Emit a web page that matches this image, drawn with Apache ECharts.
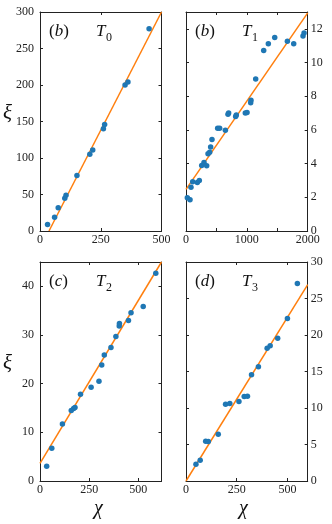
<!DOCTYPE html>
<html><head><meta charset="utf-8">
<script src="https://cdn.jsdelivr.net/npm/echarts@6/dist/echarts.min.js"></script>
<style>html,body{margin:0;padding:0;background:#fff}#c{width:332px;height:524px}</style>
</head><body><div id="c"></div>
<script>
// Panel (b) T0
const t0X = [31, 60, 75, 102, 107, 152, 205, 217, 261, 266, 350, 362, 449];
const t0Y = [9, 19, 32, 45, 49, 76, 105, 111, 140, 146, 200, 204, 277];
const t0FitX = [37, 500];
const t0FitY = [0, 300];
// Panel (b) T1
const t1X = [22, 66, 82, 110, 186, 219, 258, 296, 340, 362, 389, 405, 427, 520, 553, 647, 690, 701, 816, 827, 975, 1003, 1063, 1068, 1145, 1277, 1353, 1458, 1666, 1770, 1923, 1940];
const t1Y = [1.97, 1.86, 2.6, 2.92, 2.88, 3.0, 3.89, 4.07, 3.87, 4.58, 4.68, 4.99, 5.43, 6.1, 6.1, 5.98, 6.93, 7.0, 6.79, 6.89, 7.0, 7.03, 7.62, 7.76, 9.02, 10.72, 11.11, 11.49, 11.27, 11.11, 11.58, 11.76];
const t1FitX = [0, 2000];
const t1FitY = [2.47, 12.95];
// Panel (c) T2
const t2X = [34, 60, 114, 159, 171, 178, 206, 260, 300, 314, 327, 361, 386, 403, 404, 450, 463, 525, 589];
const t2Y = [3.02, 6.72, 11.73, 14.48, 14.89, 15.09, 17.84, 19.28, 20.51, 23.81, 25.87, 27.44, 29.71, 31.84, 32.38, 33.0, 34.58, 35.88, 42.68];
const t2FitX = [0, 618];
const t2FitY = [3.6, 45];
// Panel (d) T3
const t3X = [49, 70, 97, 110, 159, 195, 216, 261, 287, 303, 323, 357, 400, 415, 452, 500, 549];
const t3Y = [2.29, 2.83, 5.44, 5.4, 6.4, 10.52, 10.61, 10.88, 11.57, 11.61, 14.54, 15.64, 18.2, 18.52, 19.57, 22.27, 27.07];
const t3FitX = [0, 600];
const t3FitY = [0, 26.9];

const xTicks = [[0, 250, 500], [0, 1000, 2000], [0, 250, 500], [0, 250, 500]];
const yTicks = [[0, 50, 100, 150, 200, 250, 300], [0, 2, 4, 6, 8, 10, 12], [0, 10, 20, 30, 40], [0, 5, 10, 15, 20, 25, 30]];
const panelLetters = ['b', 'b', 'c', 'd'];
const panelSubs = ['0', '1', '2', '3'];

const FONT = 'Liberation Serif';
const AX = '#222';
const BLUE = '#1f77b4', ORANGE = '#ff7f0e';

const grids = [
  {left: 40, top: 12, width: 121.5, height: 219},
  {left: 186, top: 12, width: 121.7, height: 219},
  {left: 40, top: 262, width: 121.5, height: 219},
  {left: 186, top: 262, width: 121.7, height: 219}
];
const xr = [[0, 500, 250], [0, 2000, 500], [0, 618, 250], [0, 600, 250]];
const yr = [[0, 300, 50], [0, 13, 2], [0, 45, 10], [0, 30, 5]];
const ySide = ['left', 'right', 'left', 'right'];
const data = [[t0X, t0Y, t0FitX, t0FitY], [t1X, t1Y, t1FitX, t1FitY], [t2X, t2Y, t2FitX, t2FitY], [t3X, t3Y, t3FitX, t3FitY]];

const xAxis = [], yAxis = [], series = [], title = [];
const zip = (a, b) => a.map((v, i) => [v, b[i]]);
const txt = (extra) => Object.assign({fontFamily: FONT, fontWeight: 'normal', color: '#111'}, extra);
grids.forEach((g, i) => {
  const xl = xTicks[i], yl = yTicks[i];
  const base = {type: 'value', gridIndex: i, splitLine: {show: false},
    axisLine: {show: true, onZero: false, lineStyle: {color: AX, width: 1}},
    axisTick: {show: true, inside: true, length: 3, lineStyle: {color: AX}}};
  xAxis.push(Object.assign({}, base, {position: 'bottom', min: xr[i][0], max: xr[i][1], interval: xr[i][2],
    axisLabel: {show: true, margin: 3, color: '#222', fontFamily: FONT, fontSize: 12, hideOverlap: false,
      showMaxLabel: true, showMinLabel: true,
      formatter: v => xl.indexOf(v) >= 0 ? String(v) : ''}}));
  xAxis.push(Object.assign({}, base, {position: 'top', min: xr[i][0], max: xr[i][1], interval: xr[i][2], axisLabel: {show: false}}));
  yAxis.push(Object.assign({}, base, {position: ySide[i], min: yr[i][0], max: yr[i][1], interval: yr[i][2],
    axisLabel: {show: true, margin: ySide[i] === 'left' ? 6 : 3, color: '#222', fontFamily: FONT, fontSize: 12,
      showMaxLabel: true, showMinLabel: true,
      formatter: v => yl.indexOf(v) >= 0 ? String(v) : ''}}));
  yAxis.push(Object.assign({}, base, {position: ySide[i] === 'left' ? 'right' : 'left', min: yr[i][0], max: yr[i][1], interval: yr[i][2], axisLabel: {show: false}}));
  const d = data[i];
  series.push({type: 'line', xAxisIndex: 2 * i, yAxisIndex: 2 * i, data: zip(d[2], d[3]), showSymbol: false, symbol: 'none',
    lineStyle: {color: ORANGE, width: 1.5}, clip: true, z: 2, silent: true, animation: false});
  series.push({type: 'scatter', xAxisIndex: 2 * i, yAxisIndex: 2 * i, data: zip(d[0], d[1]), symbolSize: 5.5,
    itemStyle: {color: BLUE, opacity: 1}, z: 3, animation: false});
  title.push({
    text: '{p|(}{i|' + panelLetters[i] + '}{p|)}',
    left: g.left + 4, top: g.top + 6,
    textStyle: {rich: {p: txt({fontSize: 17}), i: txt({fontStyle: 'italic', fontSize: 17})}}
  });
  title.push({
    text: 'T', left: g.left + 51, top: g.top + 6,
    textStyle: txt({fontStyle: 'italic', fontSize: 17})
  });
  title.push({
    text: panelSubs[i], left: g.left + 61, top: g.top + 15,
    textStyle: txt({fontSize: 12})
  });
});

const chart = echarts.init(document.getElementById('c'), null, {renderer: 'canvas'});
chart.setOption({
  animation: false,
  backgroundColor: '#fff',
  grid: grids,
  xAxis, yAxis, series, title,
  graphic: [
    {type: 'text', left: 3, top: 103, style: {text: 'ξ', font: 'italic 21px "' + FONT + '"', fill: '#111'}},
    {type: 'text', left: 3, top: 353, style: {text: 'ξ', font: 'italic 21px "' + FONT + '"', fill: '#111'}},
    {type: 'text', left: 94, top: 499, style: {text: 'χ', font: 'italic 20px "' + FONT + '"', fill: '#111'}},
    {type: 'text', left: 239, top: 499, style: {text: 'χ', font: 'italic 20px "' + FONT + '"', fill: '#111'}}
  ]
});
</script></body></html>
